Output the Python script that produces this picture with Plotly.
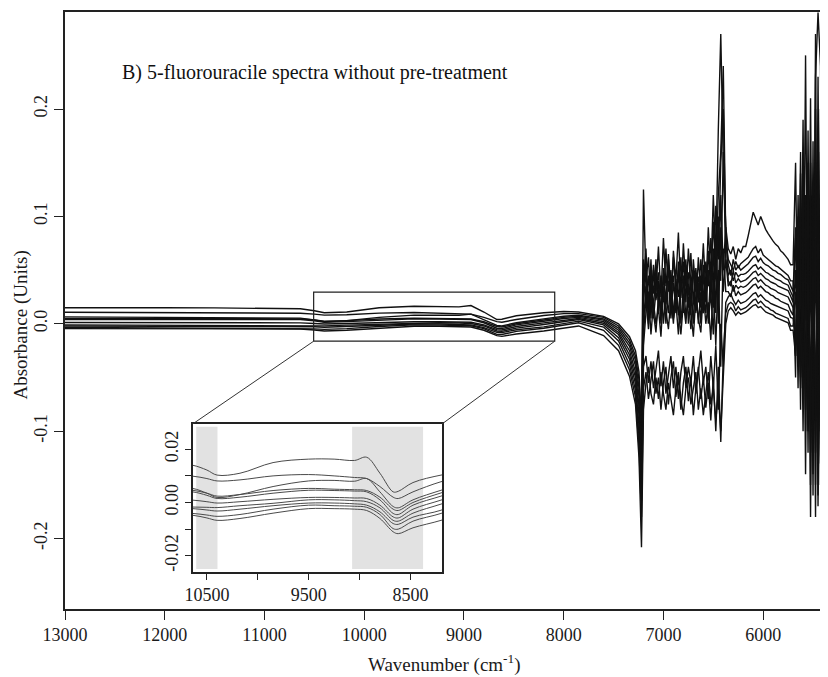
import plotly.graph_objects as go

# wavenumber grids (cm-1) for the four parts of the spectra
wn_smooth = [13000, 12500, 12000, 11500, 11000, 10800, 10640, 10500, 10400, 10175,
             9850, 9500, 9250, 9050, 8930, 8800, 8670, 8620, 8475, 8200,
             8000, 7850, 7600, 7450, 7340, 7280, 7245, 7220]
wn_noise1 = list(range(7200, 6349, -25))
wn_hump = list(range(6325, 5724, -25))
wn_noise2 = list(range(5700, 5349, -25))

# absorbance, one row per sample spectrum
abs_smooth = [
    [0.0150, 0.0152, 0.0150, 0.0148, 0.0146, 0.0144, 0.0140, 0.0122, 0.0103, 0.0110, 0.0150, 0.0163, 0.0163, 0.0158, 0.0170, 0.0110, 0.0040, 0.0042, 0.0075, 0.0103, 0.0115, 0.0110, 0.0070, 0.0000, -0.0120, -0.025, -0.045, -0.090],
    [0.0108, 0.0106, 0.0104, 0.0102, 0.0100, 0.0100, 0.0099, 0.0090, 0.0081, 0.0085, 0.0100, 0.0105, 0.0100, 0.0094, 0.0090, 0.0060, 0.0020, 0.0015, 0.0040, 0.0078, 0.0095, 0.0095, 0.0060, -0.0020, -0.0150, -0.030, -0.052, -0.100],
    [0.0065, 0.0062, 0.0060, 0.0058, 0.0056, 0.0055, 0.0053, 0.0035, 0.0019, 0.0030, 0.0060, 0.0081, 0.0083, 0.0080, 0.0090, 0.0040, -0.0015, -0.0020, 0.0010, 0.0046, 0.0070, 0.0080, 0.0045, -0.0040, -0.0180, -0.034, -0.060, -0.110],
    [0.0050, 0.0050, 0.0049, 0.0048, 0.0047, 0.0047, 0.0046, 0.0035, 0.0024, 0.0030, 0.0045, 0.0053, 0.0050, 0.0048, 0.0045, 0.0020, -0.0025, -0.0030, 0.0000, 0.0036, 0.0060, 0.0070, 0.0035, -0.0060, -0.0210, -0.039, -0.068, -0.120],
    [0.0040, 0.0041, 0.0041, 0.0040, 0.0040, 0.0040, 0.0040, 0.0027, 0.0015, 0.0020, 0.0035, 0.0046, 0.0045, 0.0043, 0.0040, 0.0010, -0.0041, -0.0045, -0.0010, 0.0024, 0.0050, 0.0060, 0.0020, -0.0080, -0.0250, -0.045, -0.077, -0.130],
    [0.0012, 0.0012, 0.0011, 0.0010, 0.0010, 0.0010, 0.0009, 0.0003, -0.0002, 0.0003, 0.0012, 0.0019, 0.0019, 0.0017, 0.0015, -0.0010, -0.0054, -0.0058, -0.0025, 0.0009, 0.0035, 0.0050, 0.0005, -0.0100, -0.0290, -0.050, -0.085, -0.140],
    [-0.0010, -0.0011, -0.0012, -0.0013, -0.0014, -0.0015, -0.0017, -0.0018, -0.0019, -0.0012, -0.0003, 0.0010, 0.0010, 0.0007, 0.0003, -0.0020, -0.0067, -0.0070, -0.0040, -0.0006, 0.0020, 0.0040, -0.0010, -0.0130, -0.0330, -0.056, -0.095, -0.150],
    [-0.0020, -0.0021, -0.0021, -0.0022, -0.0022, -0.0023, -0.0023, -0.0028, -0.0032, -0.0025, -0.0012, -0.0002, -0.0002, -0.0005, -0.0010, -0.0035, -0.0079, -0.0082, -0.0055, -0.0029, 0.0005, 0.0025, -0.0030, -0.0160, -0.0380, -0.062, -0.105, -0.165],
    [-0.0035, -0.0036, -0.0037, -0.0038, -0.0039, -0.0040, -0.0041, -0.0047, -0.0052, -0.0045, -0.0025, -0.0010, -0.0012, -0.0014, -0.0018, -0.0045, -0.0098, -0.0100, -0.0070, -0.0041, -0.0010, 0.0010, -0.0060, -0.0200, -0.0430, -0.068, -0.115, -0.180],
    [-0.0045, -0.0046, -0.0046, -0.0047, -0.0047, -0.0048, -0.0048, -0.0058, -0.0067, -0.0060, -0.0040, -0.0023, -0.0023, -0.0025, -0.0030, -0.0060, -0.0110, -0.0117, -0.0095, -0.0067, -0.0040, -0.0020, -0.0110, -0.0250, -0.0490, -0.075, -0.125, -0.208],
]

abs_noise1 = [
    [0.125, 0.040, 0.062, 0.018, 0.055, 0.030, 0.072, 0.025, 0.080, 0.035, 0.060, 0.015, 0.068, 0.040, 0.085, 0.030, 0.058, 0.020, 0.070, 0.038, 0.050, 0.012, 0.062, 0.030, 0.075, 0.028, 0.090, 0.040, 0.120, 0.060, 0.180, 0.270, 0.150, 0.090, 0.070],
    [0.060, 0.020, 0.045, 0.005, 0.050, 0.022, 0.040, 0.000, 0.052, 0.018, 0.065, 0.030, 0.045, 0.010, 0.058, 0.024, 0.075, 0.035, 0.048, 0.008, 0.060, 0.030, 0.044, 0.015, 0.055, 0.020, 0.068, 0.030, 0.095, 0.050, 0.120, 0.160, 0.240, 0.080, 0.060],
    [0.040, 0.070, 0.010, 0.048, 0.028, 0.060, 0.012, 0.045, 0.020, 0.070, 0.030, 0.050, 0.005, 0.042, 0.025, 0.062, 0.010, 0.048, 0.030, 0.066, 0.018, 0.052, 0.025, 0.045, 0.010, 0.058, 0.035, 0.080, 0.030, 0.110, 0.060, 0.150, 0.200, 0.080, 0.055],
    [0.020, 0.050, 0.000, 0.040, 0.015, 0.050, 0.030, 0.010, 0.045, 0.020, 0.055, 0.005, 0.038, 0.018, 0.050, 0.000, 0.035, 0.060, 0.015, 0.040, 0.000, 0.045, 0.020, 0.060, 0.030, 0.010, 0.050, 0.020, 0.070, 0.010, 0.100, 0.040, 0.160, 0.060, 0.045],
    [0.000, 0.035, 0.015, 0.060, 0.005, 0.030, 0.048, 0.010, 0.035, 0.000, 0.040, 0.020, 0.062, 0.030, 0.008, 0.040, 0.020, 0.055, 0.000, 0.030, 0.050, 0.010, 0.038, 0.000, 0.045, 0.025, 0.005, 0.050, 0.015, 0.080, 0.020, 0.120, 0.050, 0.090, 0.040],
    [-0.010, 0.025, -0.005, 0.030, 0.010, -0.008, 0.025, 0.040, 0.000, 0.028, 0.010, 0.045, 0.005, 0.020, -0.010, 0.030, 0.045, 0.005, 0.025, -0.005, 0.020, 0.040, 0.000, 0.030, 0.010, 0.042, 0.000, 0.030, -0.010, 0.060, 0.000, 0.090, 0.030, 0.060, 0.035],
    [-0.020, 0.010, 0.030, -0.010, 0.020, 0.000, 0.015, -0.012, 0.030, 0.010, -0.005, 0.025, 0.000, 0.035, 0.010, -0.010, 0.020, 0.000, 0.035, 0.010, -0.012, 0.025, 0.005, -0.008, 0.030, 0.000, 0.020, -0.015, 0.040, -0.020, 0.050, -0.040, 0.070, 0.030, 0.030],
    [-0.040, -0.030, -0.055, -0.035, -0.060, -0.040, -0.025, -0.058, -0.035, -0.065, -0.045, -0.030, -0.060, -0.040, -0.070, -0.045, -0.030, -0.060, -0.040, -0.055, -0.030, -0.065, -0.045, -0.025, -0.055, -0.040, -0.070, -0.030, -0.060, -0.020, -0.080, 0.000, -0.040, 0.020, 0.025],
    [-0.060, -0.045, -0.070, -0.050, -0.035, -0.065, -0.050, -0.080, -0.055, -0.040, -0.075, -0.050, -0.035, -0.068, -0.050, -0.080, -0.055, -0.040, -0.072, -0.050, -0.085, -0.060, -0.040, -0.070, -0.050, -0.078, -0.055, -0.090, -0.050, -0.100, -0.040, -0.110, -0.030, 0.010, 0.018],
    [-0.080, -0.055, -0.040, -0.065, -0.075, -0.050, -0.070, -0.045, -0.065, -0.080, -0.055, -0.070, -0.085, -0.060, -0.045, -0.070, -0.085, -0.060, -0.050, -0.075, -0.060, -0.045, -0.080, -0.060, -0.085, -0.065, -0.045, -0.075, -0.060, -0.090, -0.065, -0.100, -0.050, 0.000, 0.012],
]

abs_hump = [
    [0.065, 0.072, 0.060, 0.070, 0.066, 0.072, 0.072, 0.082, 0.094, 0.104, 0.098, 0.092, 0.100, 0.094, 0.088, 0.084, 0.080, 0.077, 0.074, 0.072, 0.068, 0.066, 0.063, 0.060, 0.055],
    [0.055, 0.050, 0.058, 0.052, 0.056, 0.058, 0.060, 0.062, 0.066, 0.070, 0.072, 0.066, 0.070, 0.064, 0.062, 0.060, 0.058, 0.056, 0.054, 0.053, 0.051, 0.049, 0.047, 0.045, 0.040],
    [0.045, 0.060, 0.050, 0.054, 0.050, 0.052, 0.054, 0.056, 0.059, 0.062, 0.063, 0.058, 0.061, 0.057, 0.055, 0.054, 0.052, 0.050, 0.049, 0.047, 0.046, 0.044, 0.042, 0.041, 0.036],
    [0.050, 0.040, 0.048, 0.044, 0.046, 0.046, 0.047, 0.049, 0.052, 0.054, 0.055, 0.051, 0.053, 0.050, 0.048, 0.047, 0.045, 0.044, 0.042, 0.041, 0.040, 0.038, 0.037, 0.036, 0.030],
    [0.035, 0.050, 0.038, 0.042, 0.039, 0.040, 0.041, 0.043, 0.046, 0.048, 0.049, 0.045, 0.047, 0.044, 0.042, 0.041, 0.039, 0.038, 0.037, 0.035, 0.034, 0.033, 0.032, 0.031, 0.026],
    [0.040, 0.030, 0.036, 0.033, 0.035, 0.034, 0.035, 0.037, 0.040, 0.042, 0.043, 0.039, 0.041, 0.038, 0.036, 0.035, 0.033, 0.032, 0.031, 0.029, 0.028, 0.027, 0.026, 0.025, 0.020],
    [0.025, 0.036, 0.026, 0.030, 0.027, 0.028, 0.029, 0.031, 0.034, 0.036, 0.037, 0.033, 0.035, 0.032, 0.030, 0.029, 0.027, 0.026, 0.024, 0.023, 0.021, 0.020, 0.019, 0.018, 0.012],
    [0.028, 0.022, 0.018, 0.022, 0.019, 0.020, 0.021, 0.023, 0.026, 0.028, 0.029, 0.025, 0.027, 0.024, 0.022, 0.021, 0.019, 0.018, 0.017, 0.016, 0.015, 0.014, 0.013, 0.012, 0.006],
    [0.020, 0.018, 0.012, 0.016, 0.013, 0.014, 0.015, 0.017, 0.020, 0.022, 0.023, 0.019, 0.021, 0.018, 0.016, 0.015, 0.013, 0.012, 0.010, 0.009, 0.008, 0.007, 0.006, 0.005, -0.002],
    [0.015, 0.012, 0.008, 0.011, 0.009, 0.010, 0.011, 0.013, 0.015, 0.017, 0.018, 0.015, 0.016, 0.013, 0.011, 0.010, 0.009, 0.008, 0.006, 0.005, 0.004, 0.003, 0.002, 0.001, -0.006],
]

abs_noise2 = [
    [0.055, 0.150, -0.020, 0.160, -0.060, 0.250, -0.080, 0.210, -0.100, 0.230, 0.290, 0.240, -0.080, 0.200, 0.050],
    [0.040, -0.050, 0.120, -0.040, 0.190, -0.100, 0.180, -0.120, 0.170, -0.150, 0.230, -0.100, 0.190, -0.160, 0.120],
    [0.030, 0.090, -0.060, 0.140, -0.030, 0.120, -0.120, 0.150, -0.160, 0.270, -0.170, 0.200, -0.120, 0.150, -0.050],
    [0.025, -0.030, 0.100, -0.080, 0.150, -0.140, 0.130, -0.180, 0.120, -0.180, 0.180, -0.150, 0.120, -0.180, 0.080],
    [0.020, 0.080, -0.010, 0.090, -0.100, 0.100, -0.050, 0.120, -0.140, 0.200, -0.140, 0.160, -0.090, 0.100, -0.100],
    [0.015, -0.020, 0.070, -0.050, 0.080, -0.060, 0.150, -0.150, 0.100, -0.120, 0.150, -0.080, 0.080, -0.120, 0.100],
    [0.008, 0.050, -0.040, 0.060, -0.070, 0.060, -0.100, 0.080, -0.080, 0.150, -0.100, 0.120, -0.050, 0.060, -0.060],
    [0.005, -0.010, 0.040, -0.030, 0.050, -0.080, 0.080, -0.060, 0.060, -0.090, 0.100, -0.130, 0.050, -0.090, 0.040],
    [-0.002, 0.030, -0.025, 0.040, -0.050, 0.030, -0.070, 0.050, -0.110, 0.080, -0.160, 0.060, -0.100, 0.030, -0.080],
    [-0.006, -0.030, 0.020, -0.060, 0.030, -0.040, 0.050, -0.090, 0.030, -0.060, 0.060, -0.100, 0.020, -0.150, 0.010],
]

x_ticks = [13000, 12000, 11000, 10000, 9000, 8000, 7000, 6000]
y_ticks = [-0.2, -0.1, 0.0, 0.1, 0.2]
inset_x_ticks = [10500, 9500, 8500]
inset_x_minor = [10000, 9000]
inset_y_ticks = [0.02, 0.0, -0.02]
inset_y_minor = [0.01, -0.01]

# zoom window and the grey bands of the inset
zoom_box = [10507, 8090, -0.0162, 0.0295]
bands = [(10605, 10396), (9073, 8376)]

X_RANGE = [13000, 5350]
Y_RANGE = [-0.2656, 0.2904]
INSET_X = [0.1673, 0.4941]
INSET_Y = [0.062, 0.3099]

wn = wn_smooth + wn_noise1 + wn_hump + wn_noise2
FONT = "Liberation Serif"

fig = go.Figure()
for i in range(len(abs_smooth)):
    y = abs_smooth[i] + abs_noise1[i] + abs_hump[i] + abs_noise2[i]
    assert len(y) == len(wn)
    fig.add_trace(go.Scatter(x=wn, y=y, mode="lines", showlegend=False, hoverinfo="skip",
                             line=dict(color="#111111", width=1.4)))

# inset traces: only the smooth part of each spectrum
idx = [k for k, w in enumerate(wn_smooth) if 8000 <= w <= 10800]
for i in range(len(abs_smooth)):
    fig.add_trace(go.Scatter(x=[wn_smooth[k] for k in idx], y=[abs_smooth[i][k] for k in idx],
                             mode="lines", showlegend=False, hoverinfo="skip", xaxis="x2", yaxis="y2",
                             line=dict(color="#4a4a4a", width=1, shape="spline")))

def px_x(f):
    return X_RANGE[0] + f * (X_RANGE[1] - X_RANGE[0])

def px_y(f):
    return Y_RANGE[0] + f * (Y_RANGE[1] - Y_RANGE[0])

shapes = [
    dict(type="rect", xref="x", yref="y", x0=zoom_box[0], x1=zoom_box[1], y0=zoom_box[2], y1=zoom_box[3],
         line=dict(color="#222222", width=1.2)),
    dict(type="line", xref="x", yref="y", x0=zoom_box[0], y0=zoom_box[2],
         x1=px_x(INSET_X[0]), y1=px_y(INSET_Y[1]), line=dict(color="#333333", width=1)),
    dict(type="line", xref="x", yref="y", x0=zoom_box[1], y0=zoom_box[2],
         x1=px_x(INSET_X[1]), y1=px_y(INSET_Y[1]), line=dict(color="#333333", width=1)),
]
for b in bands:
    shapes.append(dict(type="rect", xref="x2", yref="y2", x0=b[0], x1=b[1], y0=-0.025, y1=0.0285,
                       fillcolor="#e2e2e2", line=dict(width=0), layer="below"))

tick_font = dict(family=FONT, size=18, color="#1a1a1a")
axis_common = dict(ticks="outside", tickcolor="#222", showgrid=False, zeroline=False, showline=True,
                   linecolor="#222", linewidth=1.5, tickfont=tick_font, automargin=False)

# the page body adds an 8px offset, so the figure is 8px smaller than the window
fig.update_layout(
    width=820, height=669,
    margin=dict(l=57, r=0, t=4, b=68),
    paper_bgcolor="white", plot_bgcolor="white",
    font=dict(family=FONT, color="#1a1a1a"),
    shapes=shapes,
    xaxis=dict(range=X_RANGE, tickvals=x_ticks, ticktext=[str(v) for v in x_ticks],
               ticklen=9, tickwidth=1.2, mirror=True, **axis_common),
    yaxis=dict(range=Y_RANGE, tickvals=y_ticks, ticktext=["%.1f" % v for v in y_ticks],
               tickangle=-90, ticklen=9, tickwidth=1.2, **axis_common),
    xaxis2=dict(domain=INSET_X, anchor="y2", range=[10640, 8190],
                tickvals=inset_x_ticks, ticktext=[str(v) for v in inset_x_ticks], ticklen=6, mirror=True,
                minor=dict(tickmode="array", tickvals=inset_x_minor, ticks="outside", ticklen=6, tickcolor="#222"),
                **axis_common),
    yaxis2=dict(domain=INSET_Y, anchor="x2", range=[-0.0261, 0.0295],
                tickvals=inset_y_ticks, ticktext=["%.2f" % v for v in inset_y_ticks], tickangle=-90,
                ticklen=6, mirror=True,
                minor=dict(tickmode="array", tickvals=inset_y_minor, ticks="outside", ticklen=6, tickcolor="#222"),
                **axis_common),
    annotations=[
        dict(text="B) 5-fluorouracile spectra without pre-treatment", xref="paper", yref="paper",
             x=0.072, y=0.898, xanchor="left", yanchor="middle", showarrow=False,
             font=dict(family=FONT, size=20, color="#111")),
        dict(text="Absorbance (Units)", xref="paper", yref="paper", x=-0.058, y=0.476, textangle=-90,
             xanchor="center", yanchor="middle", showarrow=False, font=dict(family=FONT, size=19, color="#1a1a1a")),
        dict(text="Wavenumber (cm<sup>-1</sup>)", xref="paper", yref="paper", x=0.498, y=-0.092,
             xanchor="center", yanchor="middle", showarrow=False, font=dict(family=FONT, size=19, color="#1a1a1a")),
    ],
)

fig.write_html("out.html")
